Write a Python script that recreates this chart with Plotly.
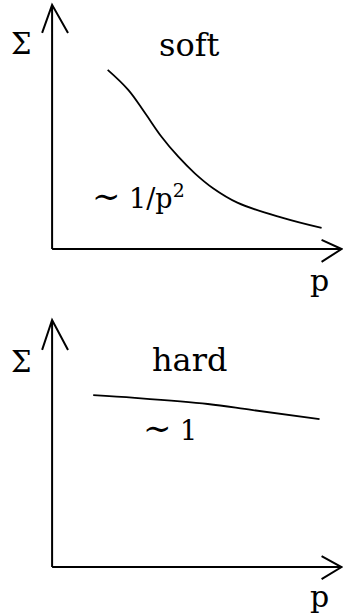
import plotly.graph_objects as go

# Soft panel: Sigma ~ 1/p^2
soft_p = [1.92, 2.63, 3.21, 3.78, 4.36, 4.93, 5.56, 6.4, 7.97, 9.31]
soft_sigma = [7.34, 6.52, 5.57, 4.60, 3.78, 3.10, 2.49, 1.90, 1.27, 0.86]

# Hard panel: Sigma ~ 1
hard_p = [1.42, 2.86, 5.38, 6.89, 9.24]
hard_sigma = [6.96, 6.85, 6.60, 6.36, 5.99]

titles = ["soft", "hard"]
labels = ["<span style='font-size:34px'>∼</span> 1/p<sup>2</sup>",
          "<span style='font-size:34px'>∼</span> 1"]

FONT = "DejaVu Serif"
fig = go.Figure()
fig.add_trace(go.Scatter(x=soft_p, y=soft_sigma, mode="lines",
                         line=dict(color="black", width=1.8, shape="spline", smoothing=1.1),
                         xaxis="x", yaxis="y", showlegend=False, hoverinfo="skip"))
fig.add_trace(go.Scatter(x=hard_p, y=hard_sigma, mode="lines",
                         line=dict(color="black", width=1.8, shape="spline", smoothing=1.0),
                         xaxis="x2", yaxis="y2", showlegend=False, hoverinfo="skip"))

hidden = dict(visible=False, showgrid=False, zeroline=False, fixedrange=True)
fig.update_layout(
    width=343, height=615, margin=dict(l=0, r=0, t=0, b=0),
    paper_bgcolor="white", plot_bgcolor="white",
    xaxis=dict(range=[-1.8, 10.05], domain=[0, 1], anchor="y", **hidden),
    yaxis=dict(range=[-2.09, 10.2], domain=[1 - 300 / 615, 1], anchor="x", **hidden),
    xaxis2=dict(range=[-1.8, 10.05], domain=[0, 1], anchor="y2", **hidden),
    yaxis2=dict(range=[-1.94, 10.81], domain=[0, 315 / 615], anchor="x2", **hidden),
)

axis_line = dict(color="black", width=2)
panels = [("x", "y", 8.85, 0.37, -0.53, 8.4, 8.36, (2.97, 2.17), -1.31),
          ("x2", "y2", 8.79, 0.445, -0.49, 8.3, 8.38, (4.07, 5.63), -1.21)]
for i, (xr, yr, wy, wxu, wxl, sy, ty, lab, py) in enumerate(panels):
    fig.add_shape(type="path", xref=xr, yref=yr,
                  path=f"M 0,0 L 0,10 M -0.345,{wy} L 0,10 L 0.55,{wy}", line=axis_line)
    fig.add_shape(type="path", xref=xr, yref=yr,
                  path=f"M 0,0 L 10,0 M 9.31,{wxu} L 10,0 L 9.31,{wxl}", line=axis_line)
    fig.add_annotation(x=-1.07, y=sy, xref=xr, yref=yr, text="Σ", showarrow=False,
                       font=dict(family=FONT, size=29, color="black"))
    fig.add_annotation(x=4.75, y=ty, xref=xr, yref=yr, text=titles[i], showarrow=False,
                       font=dict(family=FONT, size=32, color="black"))
    fig.add_annotation(x=lab[0], y=lab[1], xref=xr, yref=yr, text=labels[i], showarrow=False,
                       font=dict(family=FONT, size=27, color="black"))
    fig.add_annotation(x=9.24, y=py, xref=xr, yref=yr, text="p", showarrow=False,
                       font=dict(family=FONT, size=30, color="black"))

fig.write_html("out.html", config={"displayModeBar": False},
               post_script="document.body.style.margin='0';")
